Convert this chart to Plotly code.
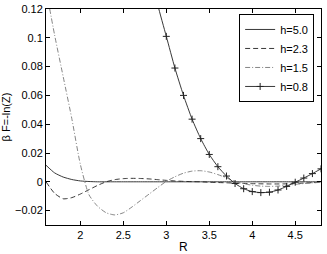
import plotly.graph_objects as go

# R grid (0.1 step)
R = [1.6, 1.7, 1.8, 1.9, 2.0, 2.1, 2.2, 2.3, 2.4, 2.5, 2.6, 2.7, 2.8, 2.9, 3.0,
     3.1, 3.2, 3.3, 3.4, 3.5, 3.6, 3.7, 3.8, 3.9, 4.0, 4.1, 4.2, 4.3, 4.4, 4.5,
     4.6, 4.7, 4.8]

h50 = [0.0115, 0.0062, 0.0033, 0.0016, 0.0006, 0.0002, 0.0, 0.0, 0.0, 0.0, 0.0,
       0.0, 0.0, 0.0, 0.0, 0.0, 0.0, 0.0, 0.0, 0.0, 0.0, 0.0, 0.0, 0.0, 0.0, 0.0,
       0.0, 0.0, 0.0, 0.0, 0.0, 0.0, 0.0]

h23 = [0.0, -0.008, -0.0118, -0.011, -0.0085, -0.0055, -0.0025, 0.0, 0.0015,
       0.0022, 0.0024, 0.0023, 0.002, 0.0015, 0.001, 0.0006, 0.0003, 0.0001, 0.0,
       -0.0003, -0.0005, -0.0007, -0.0009, -0.0011, -0.0013, -0.0014, -0.0015,
       -0.0015, -0.0014, -0.0012, -0.0009, -0.0006, -0.0004]

h15 = [0.134, 0.102, 0.073, 0.044, 0.012, -0.009, -0.017, -0.0215, -0.023,
       -0.0215, -0.0175, -0.013, -0.0085, -0.004, 0.0003, 0.0035, 0.006, 0.0074,
       0.0077, 0.0068, 0.005, 0.0027, 0.0003, -0.0013, -0.0024, -0.003, -0.0032,
       -0.003, -0.0025, -0.0018, -0.0012, -0.0007, -0.0004]

R08 = [2.8, 2.9, 3.0, 3.1, 3.2, 3.3, 3.4, 3.5, 3.6, 3.7, 3.8, 3.9, 4.0, 4.1, 4.2,
       4.3, 4.4, 4.5, 4.6, 4.7, 4.8]
h08 = [0.151, 0.123, 0.101, 0.079, 0.060, 0.0435, 0.030, 0.019, 0.0105, 0.0040,
       -0.0012, -0.0048, -0.0068, -0.0075, -0.0072, -0.0057, -0.0032, -0.0003,
       0.0026, 0.0057, 0.009]

xticks = [2, 2.5, 3, 3.5, 4, 4.5]
xticktext = ["2", "2.5", "3", "3.5", "4", "4.5"]
yticks = [-0.02, 0, 0.02, 0.04, 0.06, 0.08, 0.1, 0.12]
yticktext = ["\u22120.02", "0", "0.02", "0.04", "0.06", "0.08", "0.1", "0.12"]

FONT = "Liberation Sans, Arial, Helvetica, sans-serif"
LC = "#222222"

fig = go.Figure()
fig.add_trace(go.Scatter(x=R, y=h50, mode="lines", name="h=5.0",
                         line=dict(color=LC, width=0.9, dash="solid", shape="spline", smoothing=0.6)))
fig.add_trace(go.Scatter(x=R, y=h23, mode="lines", name="h=2.3",
                         line=dict(color=LC, width=0.9, dash="5px,3px", shape="spline", smoothing=0.6)))
fig.add_trace(go.Scatter(x=R, y=h15, mode="lines", name="h=1.5",
                         line=dict(color="#777777", width=0.9, dash="5px,2px,1px,2px", shape="spline", smoothing=0.6)))
fig.add_trace(go.Scatter(x=R08, y=h08, mode="lines+markers", name="h=0.8",
                         line=dict(color=LC, width=0.9, shape="spline", smoothing=0.6),
                         marker=dict(symbol="cross-thin", size=5,
                                     line=dict(color=LC, width=1))))

fig.update_layout(
    width=327, height=254,
    margin=dict(l=46, r=6, t=9, b=29),
    paper_bgcolor="white", plot_bgcolor="white",
    font=dict(family=FONT, size=11, color="black"),
    showlegend=True,
    legend=dict(x=0.975, y=0.977, xanchor="right", yanchor="top",
                bgcolor="white", bordercolor="black", borderwidth=1,
                font=dict(size=11), tracegroupgap=0, itemwidth=30),
    annotations=[dict(text="R", xref="paper", yref="paper", x=0.5, y=-0.1,
                      xanchor="center", yanchor="middle", showarrow=False,
                      font=dict(size=12))],
)
fig.update_xaxes(range=[1.6, 4.8], tickvals=xticks, ticktext=xticktext,
                 ticks="inside", ticklen=4, tickcolor="black", automargin=False,
                 showline=True, linecolor="black", linewidth=1, mirror="ticks",
                 showgrid=False, zeroline=False)
fig.update_yaxes(range=[-0.03, 0.12], tickvals=yticks, ticktext=yticktext,
                 ticks="inside", ticklen=4, tickcolor="black", automargin=False,
                 showline=True, linecolor="black", linewidth=1, mirror="ticks",
                 showgrid=False, zeroline=False,
                 title=dict(text="\u03b2 F=-ln(Z)", standoff=4, font=dict(size=11)))

fig.write_html("out.html", config={"displayModeBar": False},
               post_script="document.body.style.margin='0';document.body.style.overflow='hidden';")
